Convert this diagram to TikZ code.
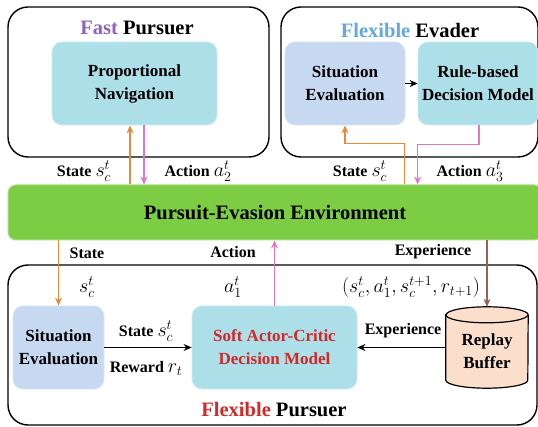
\RequirePackage{fix-cm}
\documentclass[tikz,border=0pt]{standalone}
\usepackage{fontspec}
\setmainfont{Liberation Serif}
\usetikzlibrary{arrows.meta,calc}

\definecolor{fastpurple}{RGB}{140,98,190}
\definecolor{evblue}{RGB}{100,168,225}
\definecolor{pursred}{RGB}{210,40,40}
\definecolor{cyanfill}{RGB}{172,223,232}
\definecolor{cyanline}{RGB}{205,235,240}
\definecolor{bluefill}{RGB}{198,217,240}
\definecolor{blueline}{RGB}{215,228,245}
\definecolor{envgreen}{RGB}{124,204,68}
\definecolor{envline}{RGB}{170,222,135}
\definecolor{statecol}{RGB}{232,138,58}
\definecolor{actcol}{RGB}{224,118,204}
\definecolor{expcol}{RGB}{150,96,86}
\definecolor{bufffill}{RGB}{252,222,204}

\newcommand{\boxfont}{\fontsize{17}{20}\selectfont\bfseries}
\newcommand{\labfont}{\fontsize{16}{19}\selectfont\bfseries}
\newcommand{\titfont}{\fontsize{20.5}{24}\selectfont\bfseries}
% math symbols are set larger than the bold labels
\newcommand{\mth}[1]{{\fontsize{20}{24}\selectfont$#1$}}

\tikzset{
  outerbox/.style={draw=black, line width=1.4pt, rounded corners=20pt, inner sep=0pt},
  cyanbox/.style={draw=cyanline, line width=0.8pt, fill=cyanfill, rounded corners=10pt,
    align=center, font=\boxfont, inner sep=0pt},
  bluebox/.style={draw=blueline, line width=0.8pt, fill=bluefill, rounded corners=10pt,
    align=center, font=\boxfont, inner sep=0pt},
  envbox/.style={draw=envline, line width=1pt, fill=envgreen, rounded corners=8pt,
    font=\titfont, inner sep=0pt},
  lab/.style={font=\labfont, inner sep=1pt},
  title/.style={font=\titfont, inner sep=1pt},
  statearr/.style={draw=statecol, line width=1.6pt, -{Stealth[length=8pt,width=7pt]}},
  actarr/.style={draw=actcol, line width=1.3pt, -{Stealth[length=8pt,width=7pt]}},
  exparr/.style={draw=expcol, line width=1.3pt, -{Stealth[length=8pt,width=7pt]}},
  blkarr/.style={draw=black, line width=1.2pt, -{Stealth[length=8pt,width=7pt]}},
}

\begin{document}
\begin{tikzpicture}[x=1pt,y=-1pt]
\useasboundingbox (0,0) rectangle (538,427);

% ---- fast pursuer ----
\node[outerbox, minimum width=261, minimum height=150] (fp) at (138.5,82) {};
\node[title] (fpt) at (137,28) {\textcolor{fastpurple}{Fast} Pursuer};
\node[cyanbox, minimum width=165, minimum height=83] (pn) at (134.5,83.5)
  {Proportional\\[3pt]Navigation};

% ---- flexible evader ----
\node[outerbox, minimum width=257, minimum height=150] (ev) at (409.5,82) {};
\node[title] (evt) at (410,30) {\textcolor{evblue}{Flexible} Evader};
\node[bluebox, minimum width=120, minimum height=83] (se1) at (345,83.5)
  {Situation\\[3pt]Evaluation};
\node[cyanbox, minimum width=120, minimum height=83] (rbd) at (478,83.5)
  {Rule-based\\[3pt]Decision Model};
\draw[blkarr, line width=1pt] (se1.east) -- (rbd.west);

% ---- environment ----
\node[envbox, minimum width=534, minimum height=55] (env) at (275,212.5)
  {Pursuit-Evasion Environment};

% ---- flexible pursuer ----
\node[outerbox, minimum width=529, minimum height=160] (flp) at (272.5,345) {};
\node[title] (flpt) at (274,410) {\textcolor{pursred}{Flexible} Pursuer};
\node[bluebox, minimum width=91, minimum height=83] (se2) at (58.5,347.5)
  {Situation\\[3pt]Evaluation};
\node[cyanbox, minimum width=165, minimum height=83, text=pursred] (sac) at (274.5,347.5)
  {Soft Actor-Critic\\[3pt]Decision Model};

% replay buffer cylinder
\node[font=\boxfont, align=center, minimum width=82, minimum height=81, inner sep=0pt]
  (rb) at (487,347.5) {};
\path[draw=black, line width=1.2pt, fill=bufffill]
  ([yshift=-8pt]rb.north west) -- ([yshift=8pt]rb.south west)
  arc[start angle=180, end angle=360, x radius=41pt, y radius=8pt]
  -- ([yshift=-8pt]rb.north east)
  arc[start angle=0, end angle=180, x radius=41pt, y radius=8pt] -- cycle;
\draw[line width=1.2pt] ([yshift=-8pt]rb.north west)
  arc[start angle=180, end angle=360, x radius=41pt, y radius=8pt];
\node[font=\boxfont, align=center] (rbt) at ([yshift=-4pt]rb.center) {Replay\\[3pt]Buffer};

% ---- connectors: fast pursuer ----
\draw[statearr] ([xshift=-4.5pt]pn.south |- env.north) -- ([xshift=-4.5pt]pn.south);
\draw[actarr] ([xshift=9.5pt]pn.south) -- ([xshift=9.5pt]pn.south |- env.north);
\node[lab] (l1) at (84,171) {State \mth{s_c^t}};
\node[lab] (l2) at (198,171) {Action \mth{a_2^t}};

% ---- connectors: evader ----
\draw[statearr] ([xshift=-1pt]env.north -| se1.east) -- ++(0,-41) -| (se1.south);
\draw[actarr] ([xshift=1pt]rbd.south) -- ++(0,19) -| (env.north -| rbd.west);
\node[lab] (l3) at (360,171) {State \mth{s_c^t}};
\node[lab] (l4) at (470,171) {Action \mth{a_3^t}};

% ---- connectors: flexible pursuer ----
\draw[statearr] (env.south -| se2.north) -- (se2.north);
\draw[actarr] (sac.north) -- (env.south -| sac.north);
\draw[exparr] (env.south -| rb.north) -- (rb.north);
\node[lab] (l5) at (87,253) {State};
\node[lab] (l6) at (233,252) {Action};
\node[lab] (l7) at (433,252) {Experience};
\node[lab] (m1) at (87,287) {\mth{s_c^t}};
\node[lab] (m2) at (233,287) {\mth{a_1^t}};
\node[lab] (m3) at (411,287) {\mth{(s_c^t, a_1^t, s_c^{t+1}, r_{t+1})}};

\draw[blkarr] (se2.east) -- (sac.west);
\node[lab] (l8) at (146,331) {State \mth{s_c^t}};
\node[lab] (l9) at (146,368) {Reward \mth{r_t}};
\draw[blkarr] (rb.west) -- (sac.east);
\node[lab] (l10) at (403,331) {Experience};
\end{tikzpicture}
\end{document}
